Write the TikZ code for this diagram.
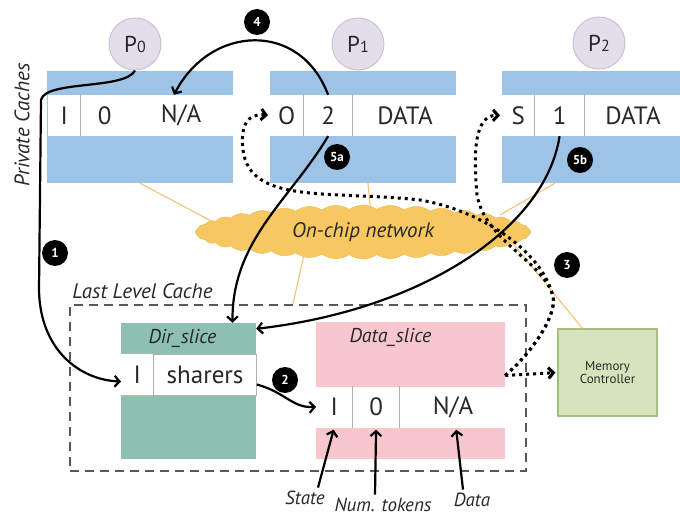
\documentclass[tikz,border=0pt]{standalone}
\usepackage{fontspec}
\setmainfont{PT Sans}
\usetikzlibrary{arrows.meta,shapes.symbols}

\definecolor{cacheblue}{RGB}{157,195,230}
\definecolor{procfill}{RGB}{228,222,236}
\definecolor{procline}{RGB}{200,194,214}
\definecolor{cloudfill}{RGB}{247,199,98}
\definecolor{cloudline}{RGB}{236,182,72}
\definecolor{dirfill}{RGB}{141,192,178}
\definecolor{datafill}{RGB}{248,199,205}
\definecolor{memfill}{RGB}{214,228,190}
\definecolor{memline}{RGB}{165,192,125}
\definecolor{linkcol}{RGB}{243,198,130}
\definecolor{ink}{RGB}{40,40,40}

\newcommand{\fs}[1]{\fontsize{#1}{#1}\selectfont}

\tikzset{
  proc/.style={circle, draw=procline, fill=procfill, line width=1pt, minimum size=52pt, inner sep=0pt, text=ink, font=\fs{23}},
  cache/.style={rectangle, fill=cacheblue, minimum width=186pt, minimum height=112pt, inner sep=0pt},
  field/.style={rectangle, fill=white, minimum height=41pt, inner sep=0pt, anchor=west, text=ink, font=\fs{25}},
  sep/.style={draw=black!30, line width=0.8pt},
  slice/.style={rectangle, inner sep=0pt},
  title/.style={text=ink, font=\fs{20}\itshape},
  link/.style={draw=linkcol, line width=1.2pt},
  badge/.style={circle, fill=black, text=white, font=\fs{13}\bfseries, minimum size=26pt, inner sep=0pt},
  stepline/.style={line width=2.2pt, -{Straight Barb[length=5pt,width=11pt]}},
  msg/.style={line width=3pt, dash pattern=on 3pt off 4pt, shorten >=2pt, -{Straight Barb[length=5pt,width=11pt]}},
}

\begin{document}
\begin{tikzpicture}[x=1pt, y=-1pt]
    \useasboundingbox (0,0) rectangle (680,516);

    % links of the network
    \coordinate (n0) at (215,223);
    \coordinate (n1) at (371,215);
    \coordinate (n2) at (500,215);
    \coordinate (n3) at (305,250);
    \coordinate (n4) at (510,240);
    \node[cache] (c0) at (140,127) {};
    \node[cache] (c1) at (363,127) {};
    \node[cache] (c2) at (595,127) {};
    \node[slice, draw=black!65, line width=2.5pt, dash pattern=on 9pt off 6pt, minimum width=456pt, minimum height=166pt] (llc) at (298,388) {};
    \node[rectangle, draw=memline, fill=memfill, line width=1.2pt, minimum width=99pt, minimum height=87pt, align=center, font=\fs{13}, text=ink] (mem) at (607.5,372.5) {Memory\\Controller};
    \draw[link] (c0.south) -- (n0);
    \draw[link] ([xshift=5pt]c1.south) -- (n1);
    \draw[link] ([xshift=-40pt]c2.south) -- (n2);
    \draw[link] (n3) -- ([xshift=-5pt]llc.north);
    \draw[link] (n4) -- ([xshift=-25pt]mem.north);

    % processors
    \node[proc] (p0) at (135,44) {P{\fs{16}0}};
    \node[proc] (p1) at (358,44) {P{\fs{16}1}};
    \node[proc] (p2) at (599,43) {P{\fs{16}2}};

    % private cache lines
    \node[field, minimum width=32pt] (c0s) at (48,115.5) {I};
    \node[field, minimum width=48pt] (c0n) at (c0s.east) {0};
    \node[field, minimum width=104pt] (c0d) at (c0n.east) {N/A};
    \draw[sep] (c0s.north east) -- (c0s.south east);

    \node[field, minimum width=33pt] (c1s) at (270,115.5) {O};
    \node[field, minimum width=49pt] (c1n) at (c1s.east) {2};
    \node[field, minimum width=104pt] (c1d) at (c1n.east) {DATA};
    \draw[sep] (c1s.north east) -- (c1s.south east);
    \draw[sep] (c1n.north east) -- (c1n.south east);

    \node[field, minimum width=32pt] (c2s) at (502,115.5) {S};
    \node[field, minimum width=50pt] (c2n) at (c2s.east) {1};
    \node[field, minimum width=96pt] (c2d) at (c2n.east) {DATA};
    \draw[sep] (c2s.north east) -- (c2s.south east);
    \draw[sep] (c2n.north east) -- (c2n.south east);

    \node[title, rotate=90, font=\fs{21}\itshape] at (22,125) {Private Caches};

    % network
    \node[cloud, cloud puffs=38, cloud puff arc=70, aspect=6.5, draw=cloudline, fill=cloudfill,
          minimum width=335pt, minimum height=54pt, inner sep=0pt, font=\fs{21}\itshape, text=ink] (noc) at (363,232) {On-chip network};

    % last level cache
    \node[title, font=\fs{21}\itshape, anchor=base west] at ([yshift=5pt]llc.north west) {Last Level Cache};

    \node[slice, fill=dirfill, minimum width=135pt, minimum height=136pt] (dir) at (188.5,391) {};
    \node[title, anchor=north] at ([xshift=-6pt, yshift=-3pt]dir.north) {Dir\_slice};
    \node[field, minimum width=32pt] (dirI) at (121,374.5) {I};
    \node[field, minimum width=103pt, draw=black!30] (dirS) at (dirI.east) {sharers};
    \draw[draw=red!40, line width=1pt] (dirI.north west) -- (dirI.north east) (dirI.south west) -- (dirI.south east);

    \node[slice, fill=datafill, minimum width=189pt, minimum height=137pt] (data) at (410.5,390.5) {};
    \node[title, anchor=north] at ([xshift=-20pt, yshift=-3pt]data.north) {Data\_slice};
    \node[field, minimum width=36pt] (dataI) at (316,407) {I};
    \node[field, minimum width=47pt] (dataN) at (dataI.east) {0};
    \node[field, minimum width=106pt] (dataD) at (dataN.east) {N/A};
    \draw[sep] (dataI.north east) -- (dataI.south east);
    \draw[sep] (dataN.north east) -- (dataN.south east);

    \node[title, font=\fs{19}\itshape] (lstate) at (305,498) {State};
    \node[title, font=\fs{19}\itshape] (lnum) at (383,505) {Num. tokens};
    \node[title, font=\fs{19}\itshape] (ldata) at (472,500) {Data};
    \draw[stepline, shorten >=2pt] ([xshift=13pt]lstate.north) -- (dataI.south);
    \draw[stepline, shorten >=2pt] ([xshift=-8pt]lnum.north) -- (dataN.south);
    \draw[stepline, shorten >=2pt] ([xshift=-9pt]ldata.north) -- ([xshift=3pt]dataD.south);

    % coherence steps
    \draw[stepline] (p0.south) .. controls (125,90) and (45,80) .. (41,100) -- (39,290) .. controls (40,350) and (80,380) .. ([yshift=-7pt]dirI.west);
    \draw[stepline] ([yshift=-10pt]dirS.east) .. controls (285,392) and (292,408) .. (dataI.west);
    \coordinate (dsout) at ([yshift=15pt]data.east);
    \draw[msg] (dsout) -- (mem.west);
    \draw[msg] (dsout) .. controls (535,350) and (560,310) .. (552,293) .. controls (540,260) and (485,240) .. (477,195) .. controls (473,150) and (475,115) .. (c2s.west);
    \draw[msg] (dsout) .. controls (535,350) and (560,310) .. (552,293) .. controls (540,250) and (480,210) .. (420,200) .. controls (330,190) and (250,205) .. (243,150) .. controls (240,125) and (248,113) .. (c1s.west);
    \draw[stepline] (c1n.north) .. controls (300,20) and (210,25) .. ([xshift=-7pt]c0d.north);
    \draw[stepline] (c1n.south) .. controls (290,200) and (232,240) .. ([xshift=44pt]dir.north);
    \draw[stepline] (c2n.south) .. controls (545,230) and (420,310) .. ([yshift=-6pt]dir.north east);

    \node[badge] (b1) at (55,253) {1};
    \node[badge] (b2) at (285,380) {2};
    \node[badge] (b3) at (567,265) {3};
    \node[badge] (b4) at (257,22) {4};
    \node[badge] (b5a) at (337,157) {5a};
    \node[badge] (b5b) at (580,160) {5b};
\end{tikzpicture}
\end{document}
